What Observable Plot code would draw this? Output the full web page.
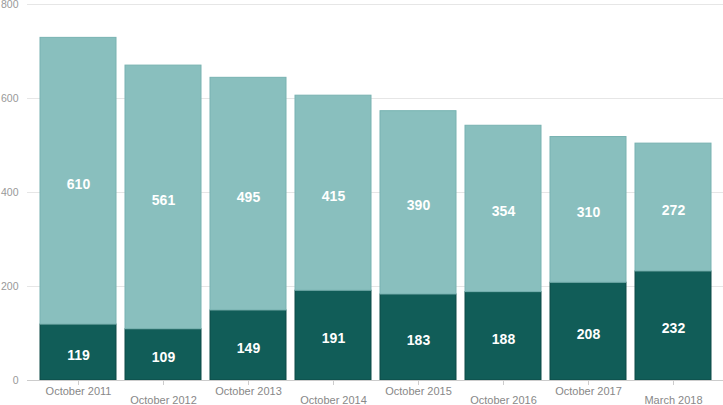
<!DOCTYPE html>
<html>
<head>
<meta charset="utf-8">
<script src="https://cdn.jsdelivr.net/npm/d3@7"></script>
<script src="https://cdn.jsdelivr.net/npm/@observablehq/plot@0.6"></script>
<style>
  html, body { margin: 0; padding: 0; background: #fff; }
  svg { display: block; }
</style>
</head>
<body>
<div id="chart"></div>
<script>
const periods = ["October 2011", "October 2012", "October 2013", "October 2014", "October 2015", "October 2016", "October 2017", "March 2018"];
const lowerValues = [119, 109, 149, 191, 183, 188, 208, 232];
const upperValues = [610, 561, 495, 415, 390, 354, 310, 272];
const yTicks = [0, 200, 400, 600, 800];

const rows = [];
periods.forEach((p, i) => {
  rows.push({period: p, series: "lower", value: lowerValues[i]});
  rows.push({period: p, series: "upper", value: upperValues[i]});
});

const colors = {lower: "#115d58", upper: "#89bfbe"};
const strokes = {lower: "#0c4a46", upper: "#78b2b1"};

const chart = Plot.plot({
  width: 723,
  height: 405,
  marginLeft: 27,
  marginRight: 0,
  marginTop: 4,
  marginBottom: 25,
  style: {fontFamily: "'Liberation Sans', Arial, sans-serif", fontSize: "11px", color: "#888", background: "#fff"},
  x: {domain: periods, range: [40, 711], paddingInner: 0.106, paddingOuter: 0, align: 0.5, label: null},
  y: {domain: [0, 800], label: null},
  marks: [
    Plot.gridY(yTicks, {stroke: "#e6e6e6", strokeOpacity: 1}),
    Plot.axisY(yTicks, {tickSize: 0, tickPadding: 9, fill: "#999", fontSize: 10.5, label: null}),
    Plot.barY(rows, Plot.stackY({
      x: "period", y: "value", z: "series", order: ["lower", "upper"],
      fill: d => colors[d.series], stroke: d => strokes[d.series], strokeWidth: 1
    })),
    Plot.text(rows, Plot.stackY({
      x: "period", y: "value", z: "series", order: ["lower", "upper"],
      text: d => String(d.value), fill: "white", fontSize: 14, fontWeight: "bold", dy: 3
    })),
    Plot.ruleY([0], {stroke: "#ccc"}),
    Plot.axisX(periods, {tickSize: 5, stroke: "#ccc", fill: "#888", fontSize: 11, label: null, tickPadding: 2}),
  ]
});
document.getElementById("chart").appendChild(chart);

// stagger x labels
const xTickTexts = chart.querySelectorAll('g[aria-label="x-axis tick label"] text');
xTickTexts.forEach((t, i) => {
  if (i % 2 === 1) {
    const tr = t.getAttribute("transform") || "";
    t.setAttribute("transform", tr + " translate(0,8.5)");
  }
});
</script>
</body>
</html>
